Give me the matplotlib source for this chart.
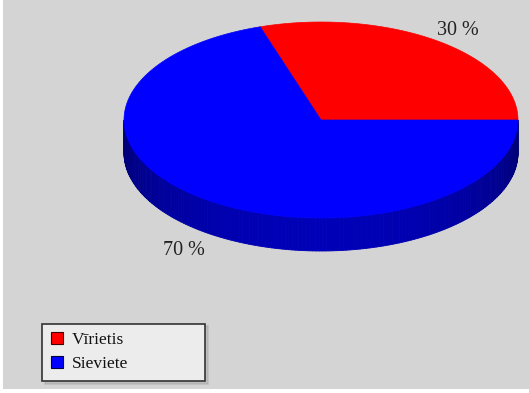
import numpy as np
import matplotlib.pyplot as plt
from matplotlib.patches import Polygon, Rectangle, Patch

# ------------------------------------------------
# DATA
# ------------------------------------------------

labels = ['Vīrietis', 'Sieviete']
shares = [30, 70]
top_colors = ['#ff0000', '#0000ff']
side_colors = [(0.75, 0.0, 0.0), (0.0, 0.0, 0.72)]

# ------------------------------------------------
# PIE GEOMETRY (pixel frame, y down)
# ------------------------------------------------

cx, cy = 321, 120
rx, ry = 197, 98
depth = 33

def ellipse_pts(t0, t1, dy=0, n=120):
    t = np.radians(np.linspace(t0, t1, n))
    return np.column_stack((cx + rx*np.cos(t), cy - ry*np.sin(t) + dy))

fig = plt.figure(figsize=(5.29, 3.93), dpi=100)
fig.patch.set_facecolor('white')
ax = fig.add_axes([0, 0, 1, 1])
ax.set_xlim(0, 529)
ax.set_ylim(393, 0)
ax.axis('off')

ax.add_patch(Rectangle((3, 0), 526, 389, fc='#d4d4d4', ec='none', zorder=0))

# slice angles (counter-clockwise from 3 o'clock)
fracs = np.array(shares) / sum(shares)
edges = np.concatenate(([0], np.cumsum(fracs) * 360))

# side wall: only the front half (180..360) is visible
for i in range(len(shares)):
    a0, a1 = max(edges[i], 180), min(edges[i+1], 360)
    if a1 <= a0:
        continue
    steps = np.linspace(a0, a1, int(a1 - a0) + 2)
    for s0, s1 in zip(steps[:-1], steps[1:]):
        mid = np.radians((s0 + s1) / 2)
        k = 0.62 + 0.38*(-np.sin(mid))
        col = tuple(c*k for c in side_colors[i])
        top = ellipse_pts(s0, s1, 0, 4)
        bot = ellipse_pts(s1, s0, depth, 4)
        ax.add_patch(Polygon(np.vstack((top, bot)), closed=True,
                             fc=col, ec=col, lw=0.6, zorder=1))

# top face
for i in range(len(shares)):
    pts = ellipse_pts(edges[i], edges[i+1], 0, 200)
    pts = np.vstack(([cx, cy], pts))
    ax.add_patch(Polygon(pts, closed=True, fc=top_colors[i],
                         ec=top_colors[i], lw=0.5, zorder=2))

# percentage labels
for i in range(len(shares)):
    mid = np.radians((edges[i] + edges[i+1]) / 2)
    lx = cx + 1.18*rx*np.cos(mid)
    ly = cy - 1.18*ry*np.sin(mid) + 4
    if np.sin(mid) < 0:
        ly += depth
    ax.text(lx, ly, f'{shares[i]} %', ha='center', va='center',
            family='Liberation Serif', fontsize=14.5, color='#222222', zorder=3)

# ------------------------------------------------
# LEGEND
# ------------------------------------------------

handles = [Patch(fc=top_colors[i], ec='#400000' if i == 0 else '#000040', lw=0.8)
           for i in range(len(labels))]
leg = ax.legend(handles, labels, loc='lower left',
                bbox_to_anchor=(42/529, 1 - 381/393, 163/529, 64/393), mode='expand',
                prop={'family': 'Liberation Serif', 'size': 12.5},
                handlelength=0.7, handleheight=0.7, handletextpad=0.5,
                labelspacing=0.45, borderpad=0.5, borderaxespad=0,
                fancybox=False, framealpha=1,
                shadow={'ox': 2, 'oy': -2, 'color': '#a8a8a8'})
leg.get_frame().set_facecolor('#ececec')
leg.get_frame().set_edgecolor('#333333')
leg.get_frame().set_linewidth(1.2)
for t in leg.get_texts():
    t.set_color('#111111')

fig.savefig('out.png', dpi=100)
